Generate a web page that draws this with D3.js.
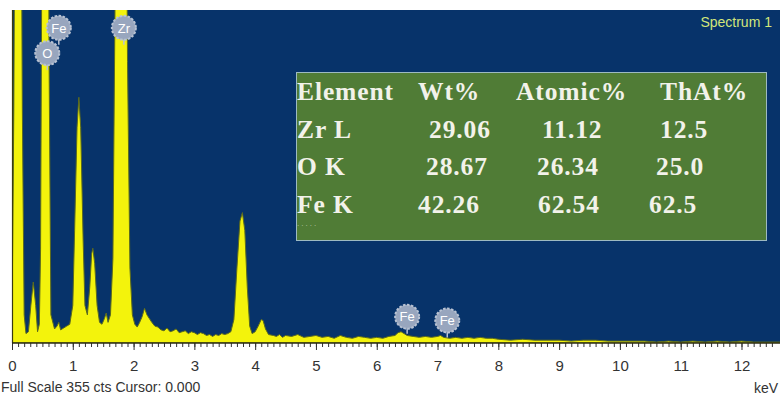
<!DOCTYPE html>
<html>
<head>
<meta charset="utf-8">
<script src="https://cdn.jsdelivr.net/npm/d3@7"></script>
<style>
  html, body { margin: 0; padding: 0; background: #fff; }
  svg { display: block; }
</style>
</head>
<body>
<div id="chart"></div>
<script>
// ─── Data ─────────────────────────────────────────────────────────────────────
// spectrum: energy (keV) and counts
const energy = [
  0.00, 0.03, 0.06, 0.10, 0.14, 0.17, 0.20, 0.23, 0.27, 0.31, 0.35, 0.39, 0.42, 0.45,
  0.47, 0.49, 0.52, 0.58, 0.61, 0.64, 0.70, 0.74, 0.77, 0.80, 0.85, 0.90, 0.95, 1.00,
  1.03, 1.07, 1.10, 1.13, 1.17, 1.20, 1.24, 1.28, 1.31, 1.33, 1.36, 1.40, 1.44, 1.48,
  1.52, 1.55, 1.58, 1.62, 1.66, 1.70, 1.75, 1.80, 1.86, 1.90, 1.94, 1.98, 2.02, 2.06,
  2.10, 2.14, 2.18, 2.22, 2.26, 2.30, 2.35, 2.40, 2.45, 2.50, 2.55, 2.60, 2.65, 2.70,
  2.75, 2.80, 2.85, 2.90, 2.95, 3.00, 3.05, 3.10, 3.15, 3.20, 3.25, 3.30, 3.35, 3.40,
  3.45, 3.50, 3.55, 3.60, 3.65, 3.70, 3.75, 3.79, 3.83, 3.87, 3.91, 3.95, 4.00, 4.05,
  4.10, 4.13, 4.17, 4.22, 4.30, 4.35, 4.40, 4.45, 4.50, 4.60, 4.70, 4.80, 4.90, 5.00,
  5.10, 5.20, 5.30, 5.40, 5.50, 5.60, 5.70, 5.80, 5.90, 6.00, 6.10, 6.20, 6.30, 6.35,
  6.40, 6.45, 6.50, 6.60, 6.70, 6.80, 6.90, 7.00, 7.05, 7.10, 7.20, 7.30, 7.40, 7.50,
  7.60, 7.70, 7.80, 7.90, 8.00, 8.20, 8.40, 8.60, 8.80, 9.00, 9.20, 9.40, 9.60, 9.80,
  10.0, 10.2, 10.4, 10.6, 10.8, 11.0, 11.2, 11.4, 11.6, 11.8, 12.0, 12.2, 12.4, 12.65
]
const counts = [
  20, 250, 650, 700, 650, 250, 30, 10, 12, 40, 65, 40, 12, 20,
  100, 400, 800, 800, 300, 30, 15, 18, 22, 14, 16, 18, 20, 40,
  120, 230, 262, 230, 110, 40, 30, 60, 95, 101, 85, 40, 22, 20,
  26, 32, 22, 30, 90, 400, 800, 800, 800, 300, 80, 30, 20, 17,
  22, 28, 37, 30, 26, 22, 18, 17, 14, 13, 16, 12, 13, 15,
  11, 12, 13, 10, 12, 11, 9, 11, 10, 8, 9, 7, 9, 8,
  10, 9, 10, 12, 25, 80, 130, 139, 120, 60, 18, 10, 12, 18,
  25, 24, 15, 9, 8, 7, 9, 6, 8, 7, 9, 6, 7, 8,
  6, 7, 5, 8, 6, 5, 7, 6, 5, 6, 5, 7, 8, 11,
  12, 10, 8, 7, 6, 7, 6, 7, 8, 6, 5, 6, 5, 6,
  5, 6, 5, 5, 4, 3, 4, 3, 3, 3, 2, 3, 3, 2,
  2, 2, 2, 1, 2, 1, 2, 1, 2, 1, 2, 1, 1, 1
]

// element markers: label, energy (keV), label height (counts)
const markerLabels = ['Fe', 'O', 'Zr', 'Fe', 'Fe']
const markerEnergy = [0.77, 0.58, 1.84, 6.50, 7.16]
const markerCounts = [336, 309, 336, 28, 24]

const majorTicks = d3.range(0, 13)
const minorTicks = d3.range(0, 126).map(i => i / 10)

// quantification table
const tableHeader = ['Element', 'Wt%', 'Atomic%', 'ThAt%']
const elements = ['Zr L', 'O K', 'Fe K']
const wtPct = ['29.06', '28.67', '42.26']
const atomicPct = ['11.12', '26.34', '62.54']
const thAtPct = ['12.5', '25.0', '62.5']

// ─── Layout ───────────────────────────────────────────────────────────────────
const W = 780, H = 398
const plot = { left: 12, right: 781, top: 10, bottom: 343 }
const sans = 'Arial, Liberation Sans, sans-serif'

const svg = d3.select('#chart').append('svg')
  .attr('width', W).attr('height', H)
  .style('background', '#fff')

const x = d3.scaleLinear().domain([0, 12.65]).range([plot.left, plot.right])
const y = d3.scaleLinear().domain([0, 355]).range([plot.bottom, plot.top])

svg.append('defs').append('clipPath').attr('id', 'plot-clip')
  .append('rect')
  .attr('x', plot.left).attr('y', plot.top)
  .attr('width', plot.right - plot.left).attr('height', plot.bottom - plot.top)

// background
svg.append('rect')
  .attr('x', plot.left).attr('y', plot.top)
  .attr('width', plot.right - plot.left).attr('height', plot.bottom - plot.top)
  .attr('fill', '#07336a')

// ── Spectrum ──────────────────────────────────────────────────────────────────
const spec = energy.map((e, i) => ({ e, c: counts[i] }))

const area = d3.area()
  .x(d => x(d.e))
  .y0(y(0))
  .y1(d => y(d.c))

svg.append('g').attr('clip-path', 'url(#plot-clip)')
  .append('path')
  .datum(spec)
  .attr('d', area)
  .attr('fill', '#f3f30c')
  .attr('stroke', '#5b6a1e')
  .attr('stroke-width', 1)
  .attr('stroke-linejoin', 'round')

// left edge line
svg.append('line')
  .attr('x1', plot.left + 0.5).attr('x2', plot.left + 0.5)
  .attr('y1', plot.top).attr('y2', plot.bottom)
  .attr('stroke', '#3b3b10').attr('stroke-width', 1.2)

// ── Element markers ───────────────────────────────────────────────────────────
const markers = svg.append('g')
  .selectAll('g')
  .data(markerLabels.map((l, i) => ({ l, e: markerEnergy[i], c: markerCounts[i] })))
  .join('g')
  .attr('transform', d => `translate(${x(d.e)},${y(d.c)})`)

markers.append('line')
  .attr('x1', 0).attr('x2', 0).attr('y1', 10).attr('y2', 17)
  .attr('stroke', '#b9c3d3').attr('stroke-width', 1.5)

markers.append('circle')
  .attr('r', 12)
  .attr('fill', '#98a6be')
  .attr('stroke', '#b8c2d2')
  .attr('stroke-width', 2)
  .attr('stroke-dasharray', '2.5 1.5')

markers.append('text')
  .text(d => d.l)
  .attr('text-anchor', 'middle')
  .attr('dy', '0.36em')
  .attr('fill', '#fff')
  .attr('font-family', sans)
  .attr('font-size', 13)

// ── Axis ──────────────────────────────────────────────────────────────────────
const axisG = svg.append('g').attr('transform', `translate(0,${plot.bottom})`)

axisG.append('g')
  .call(d3.axisBottom(x).tickValues(minorTicks).tickSize(4).tickFormat(''))
  .call(g => g.select('.domain').remove())

axisG.append('g')
  .call(d3.axisBottom(x).tickValues(majorTicks).tickSize(7).tickPadding(10).tickFormat(d3.format('d')))
  .call(g => g.select('.domain').remove())
  .call(g => g.selectAll('text')
    .attr('fill', '#333')
    .attr('font-family', sans)
    .attr('font-size', 15))

axisG.selectAll('.tick line').attr('stroke', '#333')

axisG.append('line')
  .attr('x1', plot.left).attr('x2', plot.right)
  .attr('stroke', '#2a2a10').attr('stroke-width', 1.5)

svg.append('text')
  .attr('x', 1).attr('y', 392)
  .attr('fill', '#333')
  .attr('font-family', sans)
  .attr('font-size', 14)
  .text('Full Scale 355 cts Cursor: 0.000')

svg.append('text')
  .attr('x', 778).attr('y', 393)
  .attr('text-anchor', 'end')
  .attr('fill', '#333')
  .attr('font-family', sans)
  .attr('font-size', 14)
  .text('keV')

svg.append('text')
  .attr('x', 772).attr('y', 27)
  .attr('text-anchor', 'end')
  .attr('fill', '#d2e67a')
  .attr('font-family', sans)
  .attr('font-size', 14)
  .text('Spectrum 1')

// ── Quantification table ──────────────────────────────────────────────────────
svg.append('rect')
  .attr('x', 296.5).attr('y', 72.5)
  .attr('width', 470).attr('height', 168)
  .attr('fill', '#507c36')
  .attr('stroke', '#9dbac2').attr('stroke-width', 1)

const rows = [tableHeader].concat(elements.map((el, i) => [el, wtPct[i], atomicPct[i], thAtPct[i]]))
const rowY = [100, 138, 175, 213]
const colX = [
  [297, 418, 516, 660],
  [297, 429, 542, 660],
  [297, 426, 537, 656],
  [297, 418, 538, 649]
]

rows.forEach((row, r) => {
  svg.append('g').selectAll('text')
    .data(row)
    .join('text')
    .attr('x', (d, c) => colX[r][c])
    .attr('y', rowY[r])
    .attr('fill', '#f2f2ea')
    .attr('font-family', 'Liberation Serif, Times New Roman, serif')
    .attr('font-weight', 'bold')
    .attr('font-size', 25.5)
    .attr('letter-spacing', 0.9)
    .text(d => d)
})

svg.append('text')
  .attr('x', 297).attr('y', 226)
  .attr('fill', '#b9c9a8')
  .attr('font-family', sans)
  .attr('font-size', 8)
  .attr('letter-spacing', 2)
  .text('.....')
</script>
</body>
</html>
